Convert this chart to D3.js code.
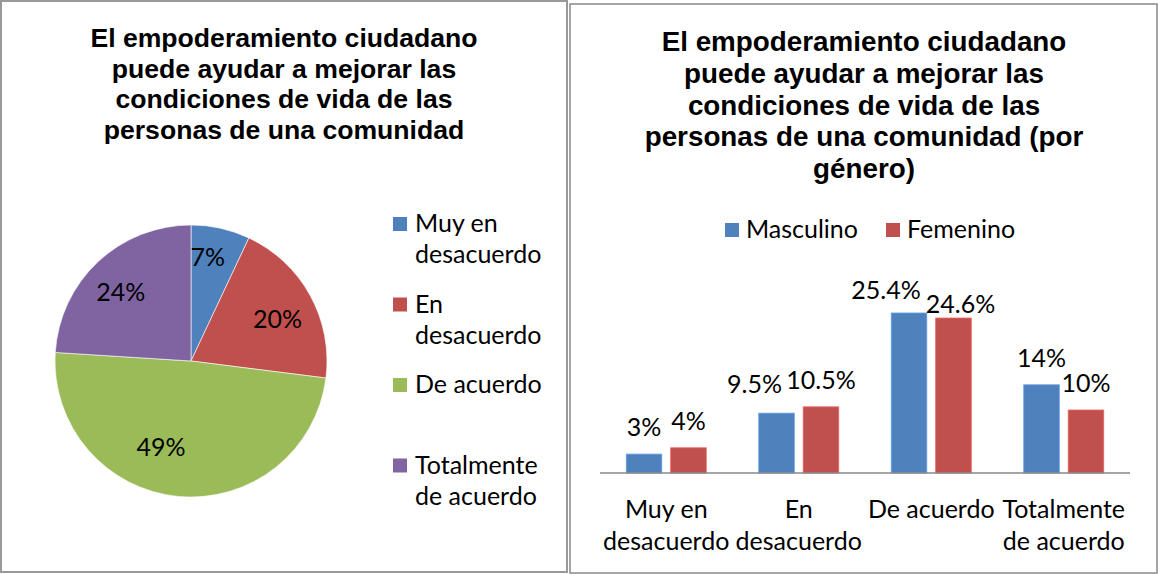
<!DOCTYPE html>
<html><head><meta charset="utf-8">
<script src="https://cdn.jsdelivr.net/npm/d3@7"></script>
<style>
html,body{margin:0;padding:0;background:#fff;}
svg{display:block;}
</style>
</head><body>
<svg id="c" width="1158" height="574"></svg>
<script>
// ---------- DATA ----------
const pieTitle = ["El empoderamiento ciudadano", "puede ayudar a mejorar las", "condiciones de vida de las", "personas de una comunidad"];
const barTitle = ["El empoderamiento ciudadano", "puede ayudar a mejorar las", "condiciones de vida de las", "personas de una comunidad (por", "género)"];
const categories = ["Muy en desacuerdo", "En desacuerdo", "De acuerdo", "Totalmente de acuerdo"];
const pieValues = [7, 20, 49, 24];
const seriesNames = ["Masculino", "Femenino"];
const masculino = [3, 9.5, 25.4, 14];
const femenino = [4, 10.5, 24.6, 10];

// ---------- STYLE / LAYOUT ----------
const catColors = ["#4F81BD", "#C0504D", "#9BBB59", "#8064A2"];
const serColors = ["#4F81BD", "#C0504D"];
const bodyFont = "Lato, 'Open Sans', sans-serif";
const titleFont = "'Liberation Sans', Arial, sans-serif";
const fs = 25;

const svg = d3.select("#c");
svg.append("rect").attr("width", 1158).attr("height", 574).attr("fill", "#fff");

// panel borders
svg.append("rect").attr("x", 1).attr("y", 1).attr("width", 566).attr("height", 571)
  .attr("fill", "none").attr("stroke", "#999").attr("stroke-width", 2);
svg.append("rect").attr("x", 570).attr("y", 4).attr("width", 587).attr("height", 569)
  .attr("fill", "none").attr("stroke", "#888").attr("stroke-width", 1.5);

function wrap(textSel, words, maxW, x, y0, lh) {
  const lines = [];
  let cur = [];
  const probe = textSel.append("tspan");
  words.split(" ").forEach(w => {
    const test = cur.concat([w]).join(" ");
    probe.text(test);
    if (probe.node().getComputedTextLength() > maxW && cur.length) {
      lines.push(cur.join(" "));
      cur = [w];
    } else cur.push(w);
  });
  lines.push(cur.join(" "));
  probe.remove();
  lines.forEach((l, i) => textSel.append("tspan").attr("x", x).attr("y", y0 + i * lh).text(l));
  return lines.length;
}

// ---------- LEFT: PIE ----------
const left = svg.append("g");
left.append("text").attr("font-family", titleFont).attr("font-weight", "bold").attr("font-size", 26.6)
  .attr("text-anchor", "middle")
  .selectAll("tspan").data(pieTitle).join("tspan")
  .attr("x", 284).attr("y", (d, i) => 47 + i * 30.5).text(d => d);

const cx = 191, cy = 361, R = 136;
const pie = d3.pie().sort(null).value(d => d)(pieValues);
const arc = d3.arc().innerRadius(0).outerRadius(R);
const labelArc = d3.arc().innerRadius(R * 0.7).outerRadius(R * 0.7);
const pieNudge = [[-4, -11], [3, 4], [-21, -9], [-5, 1]];
const pg = left.append("g").attr("transform", `translate(${cx},${cy})`);
pg.selectAll("path").data(pie).join("path")
  .attr("d", arc).attr("fill", (d, i) => catColors[i])
  .attr("stroke", "#fff").attr("stroke-width", 0.6);
pg.selectAll("text").data(pie).join("text")
  .attr("x", (d, i) => labelArc.centroid(d)[0] + pieNudge[i][0])
  .attr("y", (d, i) => labelArc.centroid(d)[1] + pieNudge[i][1])
  .attr("dy", "0.35em").attr("text-anchor", "middle")
  .attr("font-family", bodyFont).attr("font-size", fs).attr("fill", "#000")
  .text(d => d.data + "%");

// pie legend
const lg = left.append("g");
categories.forEach((c, i) => {
  const top = 217 + i * 80.5;
  lg.append("rect").attr("x", 393).attr("y", top).attr("width", 14).attr("height", 14).attr("fill", catColors[i]);
  const t = lg.append("text").attr("font-family", bodyFont).attr("font-size", fs).attr("fill", "#000");
  wrap(t, c, 140, 415, top + 15, 31);
});

// ---------- RIGHT: BARS ----------
const right = svg.append("g");
right.append("text").attr("font-family", titleFont).attr("font-weight", "bold").attr("font-size", 27.8)
  .attr("text-anchor", "middle")
  .selectAll("tspan").data(barTitle).join("tspan")
  .attr("x", 864).attr("y", (d, i) => 51 + i * 31.8).text(d => d);

// legend
const legX = [725, 886];
seriesNames.forEach((s, i) => {
  right.append("rect").attr("x", legX[i]).attr("y", 223).attr("width", 14).attr("height", 14).attr("fill", serColors[i]);
  right.append("text").attr("x", legX[i] + 21).attr("y", 238)
    .attr("font-family", bodyFont).attr("font-size", fs).attr("fill", "#000").text(s);
});

const x0 = d3.scaleBand().domain(categories).range([600, 1130]).padding(0);
const groupW = 80;
const x1 = d3.scaleBand().domain(seriesNames).range([0, groupW]).paddingInner(0.2);
const y = d3.scaleLinear().domain([0, 30]).range([473, 473 - 189]);

const rows = categories.map((c, i) => ({cat: c, vals: [masculino[i], femenino[i]]}));
const labelNudge = [[[0, 0], [0, 0]], [[-22, -2], [0, 0]], [[-23, 4], [7, 13]], [[0, 0], [0, 0]]];

const bg = right.append("g");
rows.forEach((r, ci) => {
  const gx = x0(r.cat) + (x0.bandwidth() - groupW) / 2;
  r.vals.forEach((v, si) => {
    const bx = gx + x1(seriesNames[si]);
    bg.append("rect").attr("x", bx).attr("y", y(v)).attr("width", x1.bandwidth())
      .attr("height", y(0) - y(v)).attr("fill", serColors[si])
      .attr("stroke", d3.color(serColors[si]).brighter(0.6)).attr("stroke-width", 0.8);
    bg.append("text").attr("x", bx + x1.bandwidth() / 2 + labelNudge[ci][si][0])
      .attr("y", y(v) - 18 + labelNudge[ci][si][1])
      .attr("text-anchor", "middle").attr("font-family", bodyFont).attr("font-size", fs).attr("fill", "#000")
      .text(v + "%");
  });
});

// x axis
const ax = right.append("g").attr("transform", `translate(0,${y(0)})`)
  .call(d3.axisBottom(x0).tickSize(0).tickFormat(""));
ax.select(".domain").attr("stroke", "#888").attr("stroke-width", 1.5).attr("d", "M600,0H1130");
ax.selectAll(".tick").each(function(d) {
  const t = d3.select(this).append("text").attr("fill", "#000")
    .attr("font-family", bodyFont).attr("font-size", fs).attr("text-anchor", "middle");
  wrap(t, d, x0.bandwidth() + 6, 0, 45, 32);
});
</script>
</body></html>
